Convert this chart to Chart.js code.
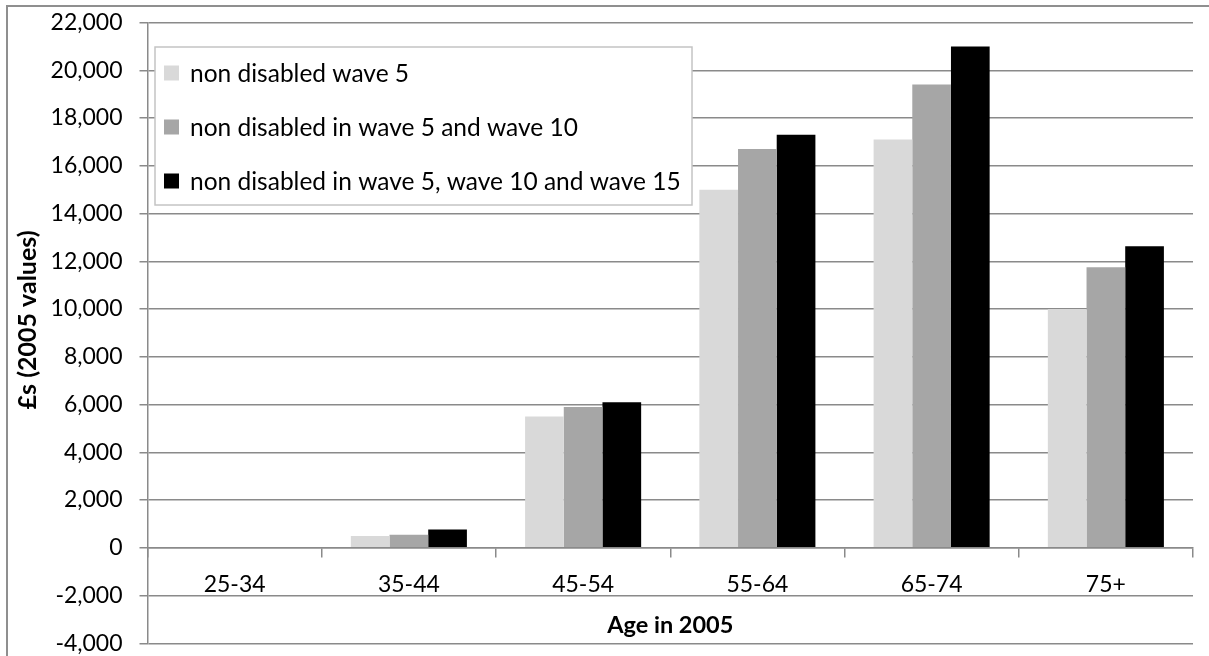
<!DOCTYPE html>
<html>
<head>
<meta charset="utf-8">
<script src="https://cdn.jsdelivr.net/npm/chart.js@4/dist/chart.umd.min.js"></script>
<style>
  html, body { margin: 0; padding: 0; background: #ffffff; }
  canvas { display: block; }
</style>
</head>
<body>
<canvas id="chart" width="1209" height="656"></canvas>
<script>
// Age bands and mean amounts (£s, 2005 values) for each group
const ageGroups = ['25-34', '35-44', '45-54', '55-64', '65-74', '75+'];
const wave5 = [0, 490, 5500, 15000, 17100, 10000];
const wave5and10 = [0, 545, 5900, 16700, 19400, 11750];
const wave5to15 = [0, 770, 6100, 17300, 21000, 12630];

const seriesLabels = [
  'non disabled wave 5',
  'non disabled in wave 5 and wave 10',
  'non disabled in wave 5, wave 10 and wave 15'
];
const seriesColors = ['#d9d9d9', '#a6a6a6', '#000000'];

const yMin = -4000;
const yMax = 22000;
const yStep = 2000;
const yTitle = '£s (2005 values)';
const xTitle = 'Age in 2005';

const FONT = 'Lato, "Open Sans", sans-serif';
const gridColor = '#8a8a8a';

// White page with the thin grey frame round the chart
const framePlugin = {
  id: 'frame',
  beforeDraw(chart) {
    const ctx = chart.ctx;
    ctx.save();
    ctx.fillStyle = '#ffffff';
    ctx.fillRect(0, 0, chart.width, chart.height);
    ctx.strokeStyle = '#8f8f8f';
    ctx.lineWidth = 2;
    ctx.strokeRect(7, 6, chart.width + 10, chart.height + 10);
    ctx.restore();
  }
};

// Rotated value-axis title
const yTitlePlugin = {
  id: 'yTitle',
  afterDraw(chart) {
    const ctx = chart.ctx;
    const a = chart.chartArea;
    ctx.save();
    ctx.translate(28, (a.top + a.bottom) / 2 - 13);
    ctx.rotate(-Math.PI / 2);
    ctx.font = 'bold 25px ' + FONT;
    ctx.fillStyle = '#000000';
    ctx.textAlign = 'center';
    ctx.textBaseline = 'middle';
    ctx.fillText(yTitle, 0, 0);
    ctx.restore();
  }
};

// Boxed legend sitting inside the plot area, top left
const boxedLegend = {
  id: 'boxedLegend',
  afterDatasetsDraw(chart) {
    const ctx = chart.ctx;
    const a = chart.chartArea;
    const x0 = a.left + 7.5, y0 = a.top + 24.5, w = 537, h = 158;
    ctx.save();
    ctx.fillStyle = '#ffffff';
    ctx.fillRect(x0, y0, w, h);
    ctx.strokeStyle = '#c4c4c4';
    ctx.lineWidth = 1.5;
    ctx.strokeRect(x0, y0, w, h);
    ctx.font = '24.5px ' + FONT;
    ctx.textBaseline = 'middle';
    ctx.textAlign = 'left';
    chart.data.datasets.forEach((ds, i) => {
      const cy = y0 + 26 + i * 54;
      ctx.fillStyle = ds.backgroundColor;
      ctx.fillRect(x0 + 9, cy - 7.5, 15, 15);
      ctx.fillStyle = '#000000';
      ctx.fillText(ds.label, x0 + 35, cy + 1);
    });
    ctx.restore();
  }
};

new Chart(document.getElementById('chart'), {
  type: 'bar',
  data: {
    labels: ageGroups,
    datasets: [
      { label: seriesLabels[0], data: wave5, backgroundColor: seriesColors[0] },
      { label: seriesLabels[1], data: wave5and10, backgroundColor: seriesColors[1] },
      { label: seriesLabels[2], data: wave5to15, backgroundColor: seriesColors[2] }
    ]
  },
  options: {
    responsive: false,
    animation: false,
    devicePixelRatio: 1,
    layout: { padding: { left: 0, top: 22.5, right: 16, bottom: 12.7 } },
    datasets: { bar: { categoryPercentage: 0.666, barPercentage: 1.0, borderWidth: 0 } },
    plugins: {
      legend: { display: false },
      tooltip: { enabled: false }
    },
    scales: {
      x: {
        // category axis crosses the value axis at zero
        position: { y: 0 },
        offset: true,
        grid: {
          display: true,
          drawOnChartArea: false,
          drawTicks: true,
          tickLength: 9,
          offset: true,
          color: gridColor,
          lineWidth: 1.5
        },
        border: { display: true, color: gridColor, width: 1.5 },
        ticks: {
          font: { family: FONT, size: 23 },
          color: '#000000',
          padding: 14,
          maxRotation: 0,
          autoSkip: false
        },
        title: {
          display: true,
          text: xTitle,
          font: { family: FONT, size: 23.5, weight: 'bold' },
          color: '#000000',
          padding: { top: 0, bottom: 8 }
        },
        afterFit(scale) { scale.height = 100; }
      },
      y: {
        min: yMin,
        max: yMax,
        ticks: {
          stepSize: yStep,
          padding: 17,
          font: { family: FONT, size: 23 },
          color: '#000000',
          callback: v => v.toLocaleString('en-US')
        },
        grid: { color: gridColor, lineWidth: 1.5, tickLength: 8 },
        border: { display: true, color: gridColor, width: 1.5 },
        afterFit(scale) {
          scale.width = 147.5;
          scale.paddingTop = 0;
          scale.paddingBottom = 0;
        }
      }
    }
  },
  plugins: [framePlugin, boxedLegend, yTitlePlugin]
});
</script>
</body>
</html>
